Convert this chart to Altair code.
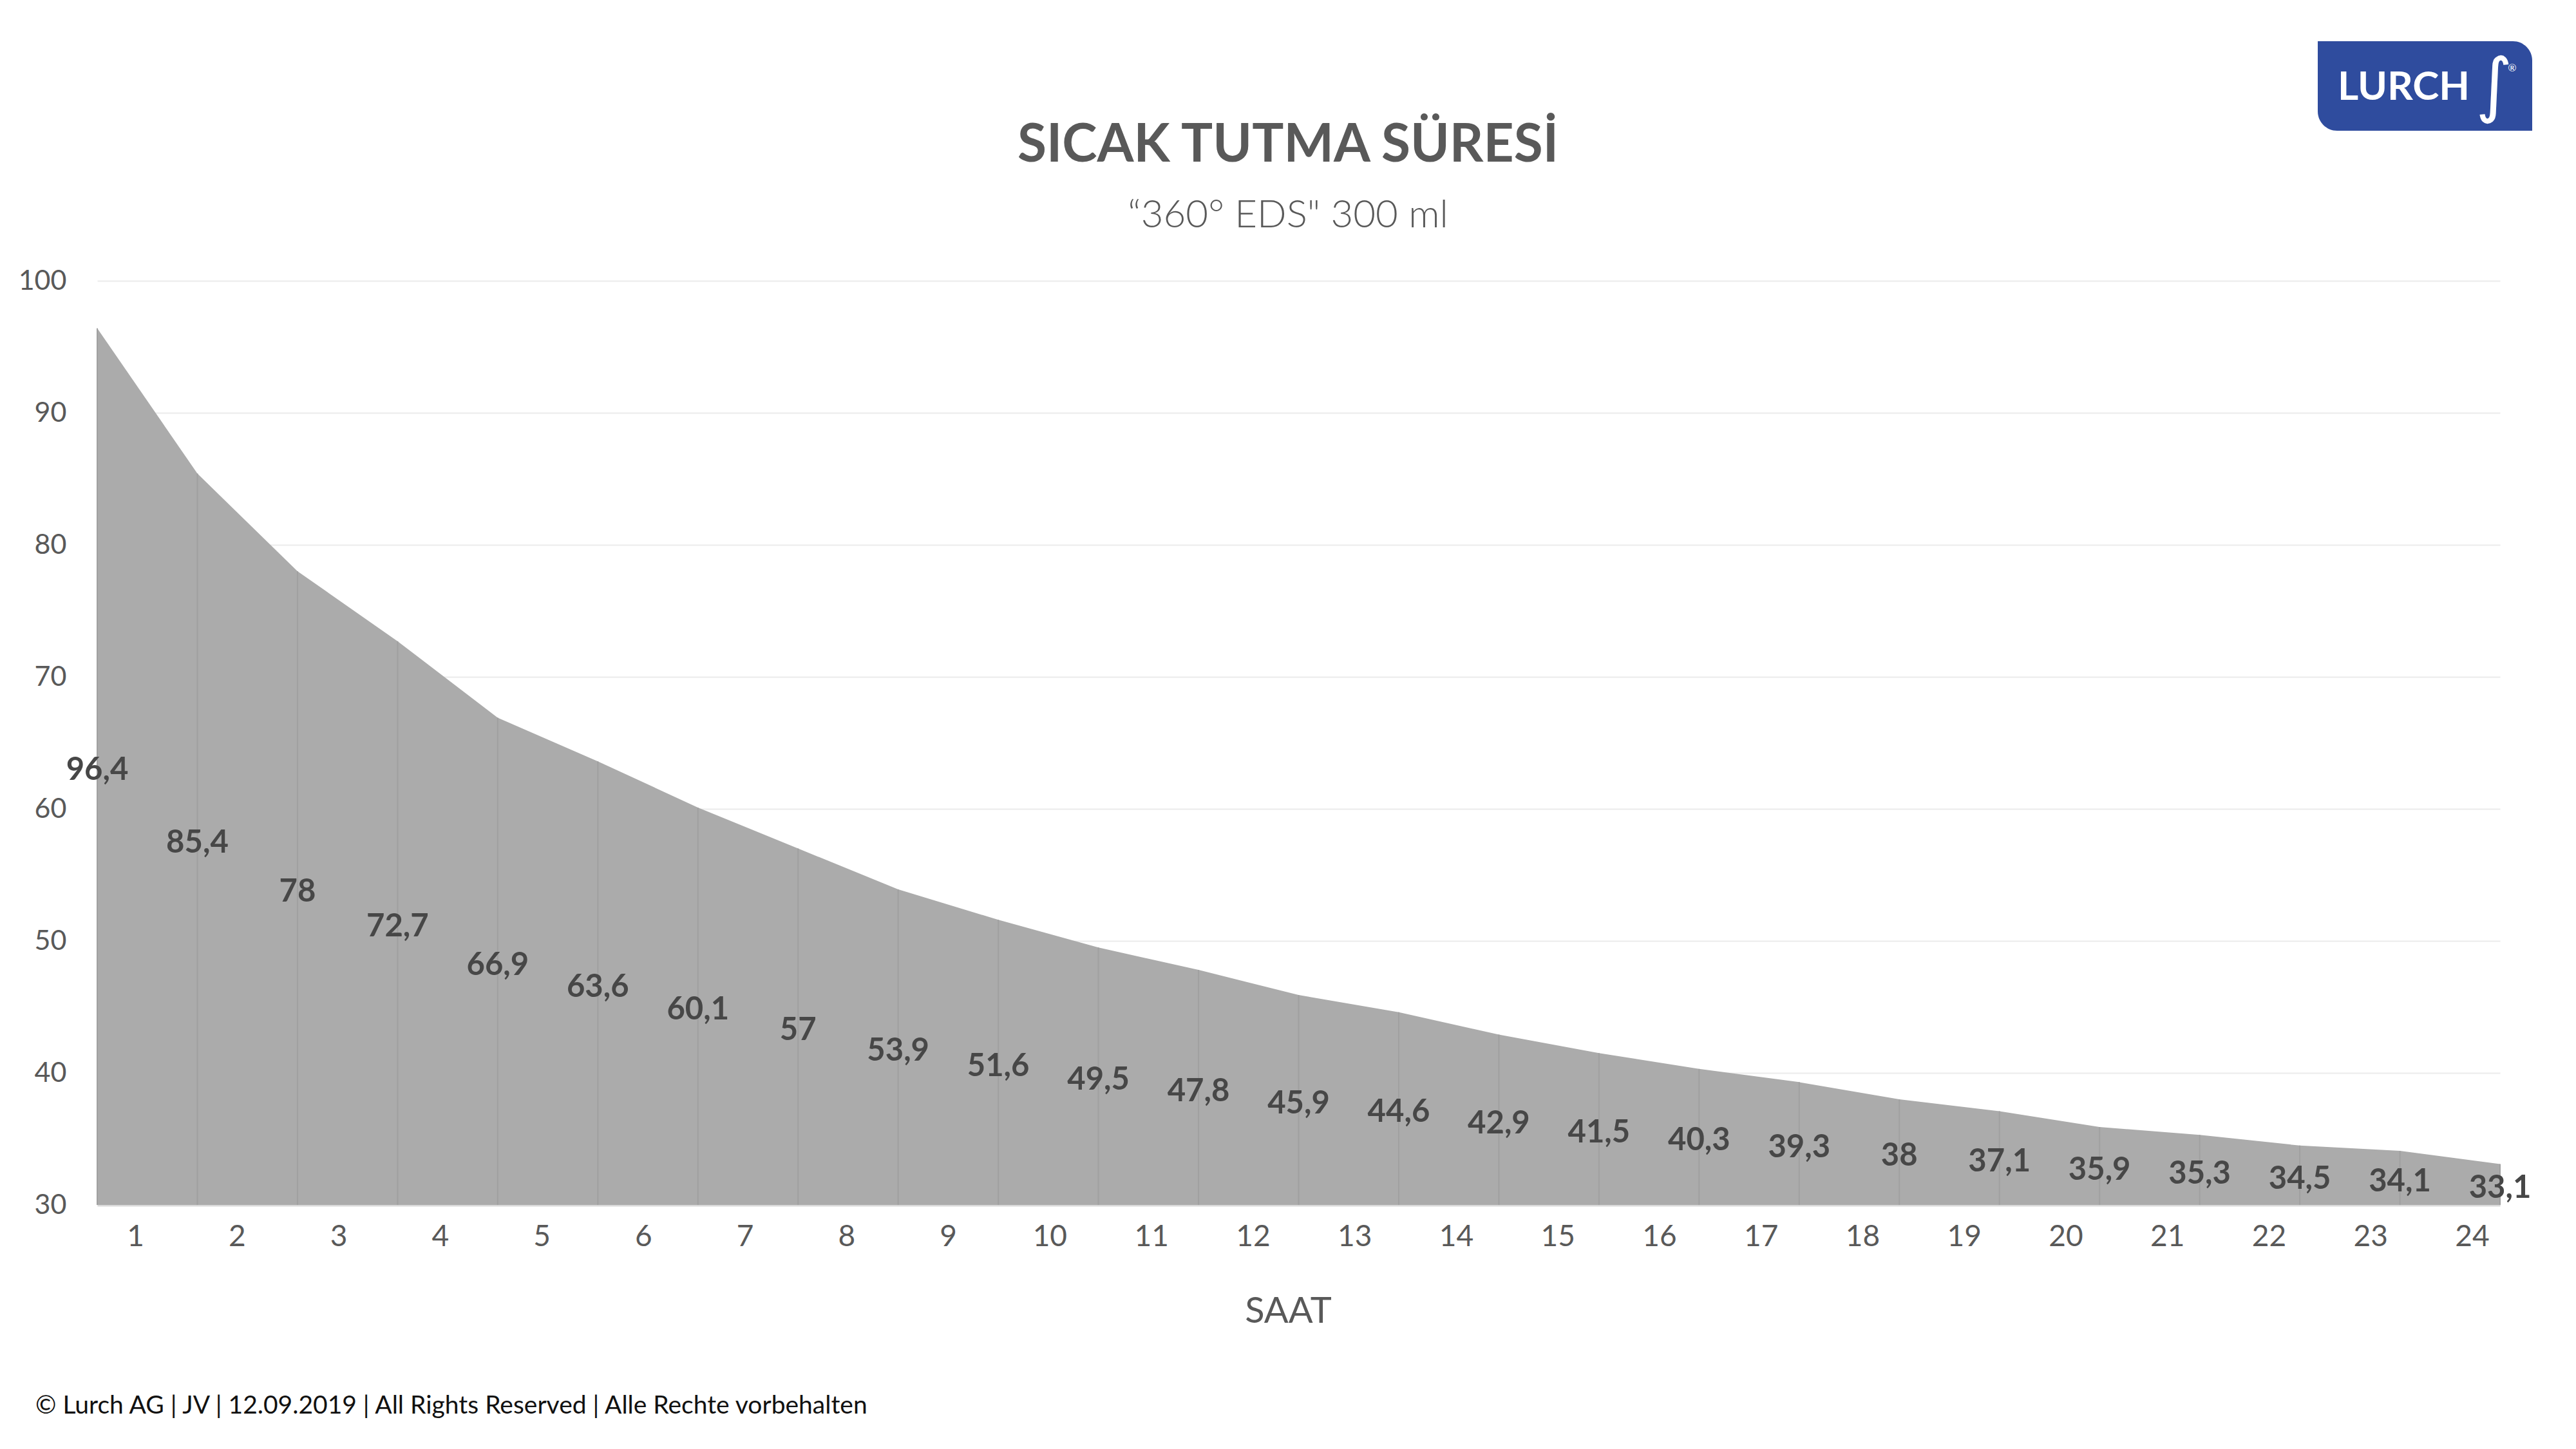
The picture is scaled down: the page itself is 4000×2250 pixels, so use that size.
import altair as alt
import pandas as pd

# ---- data ----
values = [96.4, 85.4, 78, 72.7, 66.9, 63.6, 60.1, 57, 53.9, 51.6, 49.5, 47.8,
          45.9, 44.6, 42.9, 41.5, 40.3, 39.3, 38, 37.1, 35.9, 35.3, 34.5, 34.1, 33.1]
points = list(range(len(values)))          # measurement points 0..24
hour_labels = list(range(1, 25))           # x tick labels 1..24
y_ticks = [30, 40, 50, 60, 70, 80, 90, 100]
y_base = 30

title_text = "SICAK TUTMA SÜRESİ"
subtitle_text = "\u201c360\u00b0 EDS\" 300 ml"
x_title = "SAAT"
footer_text = "© Lurch AG | JV | 12.09.2019 | All Rights Reserved | Alle Rechte vorbehalten"
logo_text = "LURCH"

df = pd.DataFrame({
    "p": points,
    "v": values,
    "label": [f"{v:g}".replace(".", ",") for v in values],
})

W, H = 3731, 1435
GREY_TXT = "#595959"

# the hour labels sit on a slightly wider spacing than the measurement points
LBL_STEP, LBL_SHIFT = 1.01478, -0.6348
tick_pos = [round(h * LBL_STEP + LBL_SHIFT, 4) for h in hour_labels]

x_enc = alt.X(
    "p:Q",
    scale=alt.Scale(domain=[0, 24], nice=False, zero=False),
    axis=alt.Axis(
        values=tick_pos,
        labelExpr=f"format(round((datum.value - ({LBL_SHIFT})) / {LBL_STEP}), 'd')",
        grid=False, ticks=False, tickSize=0,
        domain=True, domainColor="#d9d9d9", domainWidth=4,
        labelFont="Lato", labelFontSize=46, labelColor=GREY_TXT,
        labelBaseline="middle", labelPadding=49, labelFlush=False,
        labelOverlap=False,
        title=x_title, titleFont="Lato", titleFontSize=56,
        titleFontWeight="normal", titleColor=GREY_TXT,
        titleX=1849, titleY=165, titleBaseline="middle", titleAlign="center",
    ),
)
y_enc = alt.Y(
    "v:Q",
    scale=alt.Scale(domain=[30, 100], nice=False, zero=False),
    axis=alt.Axis(
        values=y_ticks, grid=True, gridColor="#ebebeb", gridWidth=2,
        domain=False, ticks=False, tickSize=0,
        labelFont="Lato", labelFontSize=43, labelColor=GREY_TXT,
        labelPadding=48, title=None,
    ),
)

base = alt.Chart(df)

area = base.mark_area(color="#ababab", interpolate="linear").encode(
    x=x_enc, y=y_enc, y2=alt.datum(y_base)
)

rules = base.mark_rule(color="#a0a0a0", strokeWidth=2).encode(
    x="p:Q", y="v:Q", y2=alt.datum(y_base)
)

labels = base.mark_text(
    font="Lato", fontWeight="bold", fontSize=49, color="#474747",
    align="center", baseline="middle", dy=6,
).transform_calculate(
    mid=f"(datum.v + {y_base}) / 2"
).encode(x="p:Q", y="mid:Q", text="label:N")

one = pd.DataFrame({"k": [0]})

title = alt.Chart(one).mark_text(
    font="Lato", fontWeight="bold", fontSize=82, color=GREY_TXT,
    align="center", baseline="middle",
).encode(x=alt.value(1849), y=alt.value(-210), text=alt.value(title_text))

subtitle = alt.Chart(one).mark_text(
    font="Lato", fontWeight=300, fontSize=60, color=GREY_TXT,
    align="center", baseline="middle",
).encode(x=alt.value(1849), y=alt.value(-101), text=alt.value(subtitle_text))

footer = alt.Chart(one).mark_text(
    font="Lato", fontSize=39, color="#111111",
    align="left", baseline="alphabetic",
).encode(x=alt.value(-96), y=alt.value(1759), text=alt.value(footer_text))

logo_box = alt.Chart(one).mark_rect(
    color="#2f4c9e", cornerRadiusTopRight=30, cornerRadiusBottomLeft=30,
).encode(x=alt.value(3448), x2=alt.value(3781), y=alt.value(-372), y2=alt.value(-233))

logo_word = alt.Chart(one).mark_text(
    font="Lato", fontWeight="bold", fontSize=62, color="white",
    align="left", baseline="middle",
).encode(x=alt.value(3479), y=alt.value(-300), text=alt.value(logo_text))

logo_sign = alt.Chart(one).mark_text(
    font="DejaVu Sans", fontSize=110, color="white",
    align="center", baseline="middle",
).encode(x=alt.value(3722), y=alt.value(-300), text=alt.value("\u222b"))

logo_reg = alt.Chart(one).mark_text(
    font="Lato", fontSize=16, color="white",
    align="center", baseline="middle",
).encode(x=alt.value(3750), y=alt.value(-330), text=alt.value("\u00ae"))

chart = alt.layer(
    area, rules, labels, title, subtitle, footer,
    logo_box, logo_word, logo_sign, logo_reg,
).properties(
    width=W, height=H,
    padding={"left": 143, "top": 428, "right": 100, "bottom": 371},
    autosize=alt.AutoSizeParams(type="none"),
    background="white",
).configure_view(stroke=None)

chart.save("out.html", embed_options={"renderer": "svg", "actions": False})
